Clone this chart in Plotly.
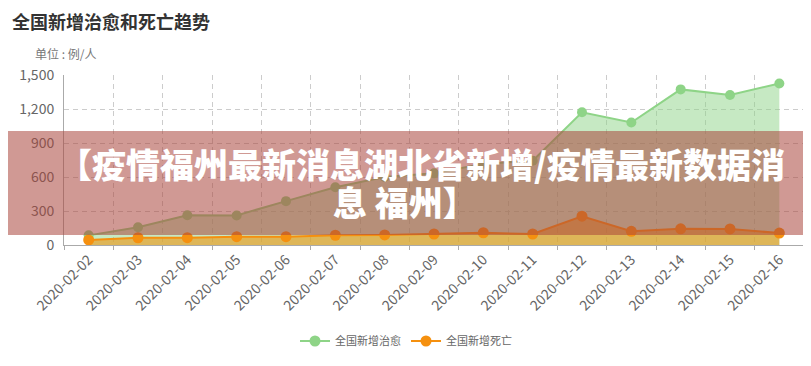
import plotly.graph_objects as go

dates = ["2020-02-02", "2020-02-03", "2020-02-04", "2020-02-05", "2020-02-06",
         "2020-02-07", "2020-02-08", "2020-02-09", "2020-02-10", "2020-02-11",
         "2020-02-12", "2020-02-13", "2020-02-14", "2020-02-15", "2020-02-16"]
cured = [85, 157, 262, 261, 387, 510, 600, 632, 716, 744, 1171, 1081, 1373, 1323, 1425]
deaths = [45, 64, 65, 73, 73, 86, 89, 97, 108, 97, 254, 121, 143, 142, 105]
y_ticks = [0, 300, 600, 900, 1200, 1500]

title_text = "全国新增治愈和死亡趋势"
unit_text = "单位 : 例/人"
banner_line1 = "【疫情福州最新消息湖北省新增/疫情最新数据消"
banner_line2 = "息 福州】"
series_names = ["全国新增治愈", "全国新增死亡"]

FONT = "Noto Sans CJK SC, Noto Sans, sans-serif"
GREEN = "#8ed487"
ORANGE = "#f5900f"

# page has an 8px body margin; work in window pixels and convert
OFF = 8
W, H = 811 - OFF, 366 - OFF
PL, PR, PT, PB = 64, 804, 75, 245  # plot area in window pixels
L, R, T, B = PL - OFF, (W + OFF) - PR, PT - OFF, (H + OFF) - PB
pw, ph = PR - PL, PB - PT

def px_x(p):
    return (p - PL) / pw

def px_y(p):
    return (PB - p) / ph

fig = go.Figure()
fig.add_trace(go.Scatter(
    x=dates, y=cured, name=series_names[0], mode="lines+markers",
    line=dict(color=GREEN, width=2), marker=dict(color=GREEN, size=10),
    fill="tozeroy", fillcolor="rgba(142,212,135,0.5)", showlegend=False,
))
fig.add_trace(go.Scatter(
    x=dates, y=deaths, name=series_names[1], mode="lines+markers",
    line=dict(color=ORANGE, width=2), marker=dict(color=ORANGE, size=11),
    fill="tozeroy", fillcolor="rgba(238,150,22,0.62)", showlegend=False,
))
# legend entries (line + marker only)
for nm, col in zip(series_names, [GREEN, ORANGE]):
    fig.add_trace(go.Scatter(x=[None], y=[None], name=nm, mode="lines+markers",
                             line=dict(color=col, width=2),
                             marker=dict(color=col, size=11)))

fig.update_layout(
    width=W, height=H,
    margin=dict(l=L, r=R, t=T, b=B, autoexpand=False),
    paper_bgcolor="white", plot_bgcolor="white",
    font=dict(family=FONT, color="#666", size=12),
    showlegend=True,
    legend=dict(orientation="h", x=px_x(406), xanchor="center",
                y=px_y(341), yanchor="middle",
                font=dict(size=11, color="#666"), itemwidth=30,
                bgcolor="rgba(0,0,0,0)"),
    xaxis=dict(
        type="category", tickson="boundaries", tickangle=-45,
        showgrid=True, gridcolor="#cccccc", griddash="5px,4px", gridwidth=1,
        showline=True, linecolor="#aaaaaa", linewidth=1,
        ticks="outside", ticklen=4, tickcolor="#aaaaaa",
        tickfont=dict(size=14, color="#666"),
        range=[-0.5, 14.5], fixedrange=True,
    ),
    yaxis=dict(
        range=[0, 1500], tickvals=y_ticks, tickformat=",",
        showgrid=True, gridcolor="#cccccc", griddash="5px,4px", gridwidth=1,
        zeroline=False,
        showline=True, linecolor="#aaaaaa", linewidth=1,
        ticks="", tickfont=dict(size=14, color="#666"),
        ticklabelstandoff=6,
    ),
)

fig.add_annotation(text=title_text, xref="paper", yref="paper",
                   x=px_x(10), y=px_y(21), xanchor="left", yanchor="middle",
                   showarrow=False,
                   font=dict(size=18, color="#333", family=FONT, weight="bold"))
fig.add_annotation(text=unit_text, xref="paper", yref="paper",
                   x=px_x(33), y=px_y(53), xanchor="left", yanchor="middle",
                   showarrow=False, font=dict(size=12, color="#777", family=FONT))

fig.add_shape(type="rect", xref="paper", yref="paper",
              x0=px_x(0), x1=px_x(811), y0=px_y(235), y1=px_y(131),
              fillcolor="rgba(170,70,60,0.55)", line=dict(width=0), layer="above")

fig.add_annotation(text=banner_line1, xref="paper", yref="paper",
                   x=px_x(421), y=px_y(163), xanchor="center", yanchor="middle",
                   showarrow=False,
                   font=dict(size=34, color="white", family=FONT, weight=900))
fig.add_annotation(text=banner_line2, xref="paper", yref="paper",
                   x=px_x(405), y=px_y(201), xanchor="center", yanchor="middle",
                   showarrow=False,
                   font=dict(size=34, color="white", family=FONT, weight=900))

fig.write_html("out.html")
